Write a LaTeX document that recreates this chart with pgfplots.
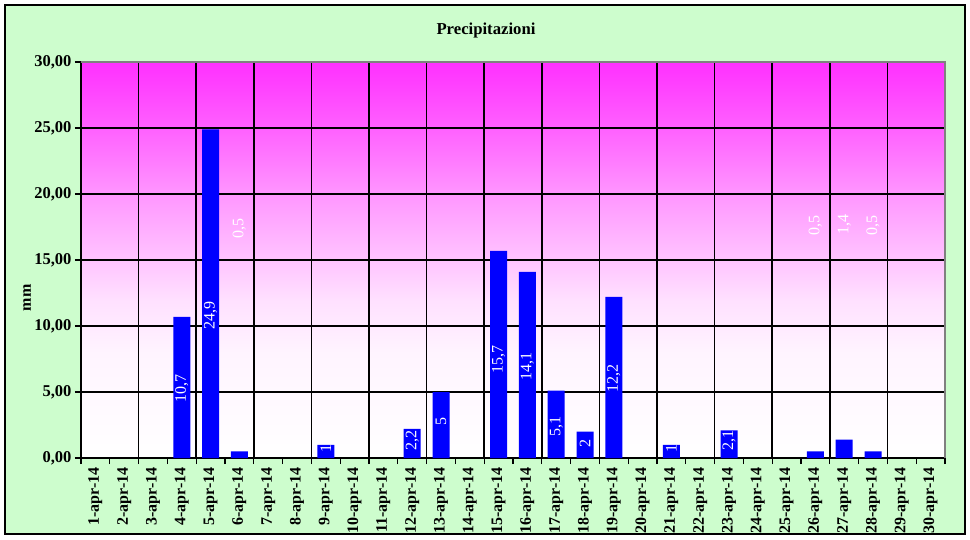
\documentclass[border=0pt]{standalone}
\usepackage{pgfplots}
\pgfplotsset{compat=1.18}
\usepackage{fontspec}
\setmainfont{Liberation Serif}
\definecolor{bggreen}{HTML}{CDFDCD}
\definecolor{pA}{HTML}{FFF4FF}
\definecolor{pB}{HTML}{FFE0FF}
\definecolor{pC}{HTML}{FFC4FF}
\definecolor{pD}{HTML}{FF96FF}
\definecolor{pE}{HTML}{FF60FF}
\definecolor{pF}{HTML}{FF30FF}
\definecolor{barblue}{HTML}{0000FF}
\definecolor{bordergray}{HTML}{808080}
\pgfdeclareverticalshading{precip}{100bp}{color(0bp)=(white); color(25bp)=(white); color(38.3bp)=(pA); color(45bp)=(pB); color(50bp)=(pC); color(58.3bp)=(pD); color(66.7bp)=(pE); color(75bp)=(pF); color(100bp)=(pF)}
\begin{document}
\begin{tikzpicture}[x=1pt,y=1pt]
\path[use as bounding box] (0,0) rectangle (970,539);
\draw[fill=bggreen, line width=1.5pt] (5,5) rectangle (965,534);
\node[font=\bfseries\fontsize{16.7}{18}\selectfont] at (486,509) {Precipitazioni};
\node[rotate=90, font=\bfseries\fontsize{16}{17}\selectfont] at (27,241) {mm};
\begin{axis}[
  at={(81pt,81pt)}, anchor=south west,
  scale only axis, width=864pt, height=396pt,
  xmin=0.5, xmax=30.5, ymin=0, ymax=30,
  axis x line*=bottom, axis y line*=left,
  axis line style={line width=1.6pt, -, black},
  axis background/.style={shading=precip},
  tick align=outside,
  ytick={0,5,...,30},
  ymajorgrids=true,
  major grid style={black, line width=1.6pt},
  major tick length=6pt, minor tick length=6pt,
  y tick style={black, line width=1.4pt},
  xtick={1,...,30},
  xticklabels={1-apr-14,2-apr-14,3-apr-14,4-apr-14,5-apr-14,6-apr-14,7-apr-14,8-apr-14,9-apr-14,10-apr-14,11-apr-14,12-apr-14,13-apr-14,14-apr-14,15-apr-14,16-apr-14,17-apr-14,18-apr-14,19-apr-14,20-apr-14,21-apr-14,22-apr-14,23-apr-14,24-apr-14,25-apr-14,26-apr-14,27-apr-14,28-apr-14,29-apr-14,30-apr-14},
  major x tick style={draw=none},
  minor xtick={0.5,1.5,...,30.5},
  minor x tick style={black, line width=1.2pt},
  extra x ticks={2.5,4.5,...,28.5},
  extra x tick labels={},
  extra x tick style={grid=major},
  xticklabel style={rotate=90, anchor=east, font=\bfseries\fontsize{16}{17}\selectfont},
  yticklabel style={font=\bfseries\fontsize{16.5}{17}\selectfont, /pgf/number format/.cd, fixed, fixed zerofill, precision=2, use comma},
  /pgf/number format/assume math mode=true,
  clip=false,
]
\addplot[ybar, fill=barblue, draw=none, bar width=17pt] coordinates {
  (4,10.7) (5,24.9) (6,0.5) (9,1) (12,2.2) (13,5) (15,15.7) (16,14.1)
  (17,5.1) (18,2) (19,12.2) (21,1) (23,2.1) (26,0.5) (27,1.4) (28,0.5)
};
\draw[bordergray, line width=1.6pt] (rel axis cs:0,1) -- (rel axis cs:1,1) -- (rel axis cs:1,0);
\begin{scope}[every node/.style={rotate=90, text=white, font=\fontsize{16}{17}\selectfont, inner sep=0pt}]
\node at (axis cs:4,5.3) {10,7};
\node at (axis cs:5,10.8) {24,9};
\node at (axis cs:6,17.4) {0,5};
\node at (axis cs:9,0.75) {1};
\node at (axis cs:12,1.3) {2,2};
\node at (axis cs:13,2.8) {5};
\node at (axis cs:15,7.5) {15,7};
\node at (axis cs:16,6.9) {14,1};
\node at (axis cs:17,2.35) {5,1};
\node at (axis cs:18,1.1) {2};
\node at (axis cs:19,6.06) {12,2};
\node at (axis cs:21,0.75) {1};
\node at (axis cs:23,1.3) {2,1};
\node at (axis cs:26,17.6) {0,5};
\node at (axis cs:27,17.7) {1,4};
\node at (axis cs:28,17.6) {0,5};
\end{scope}
\end{axis}
\end{tikzpicture}
\end{document}
